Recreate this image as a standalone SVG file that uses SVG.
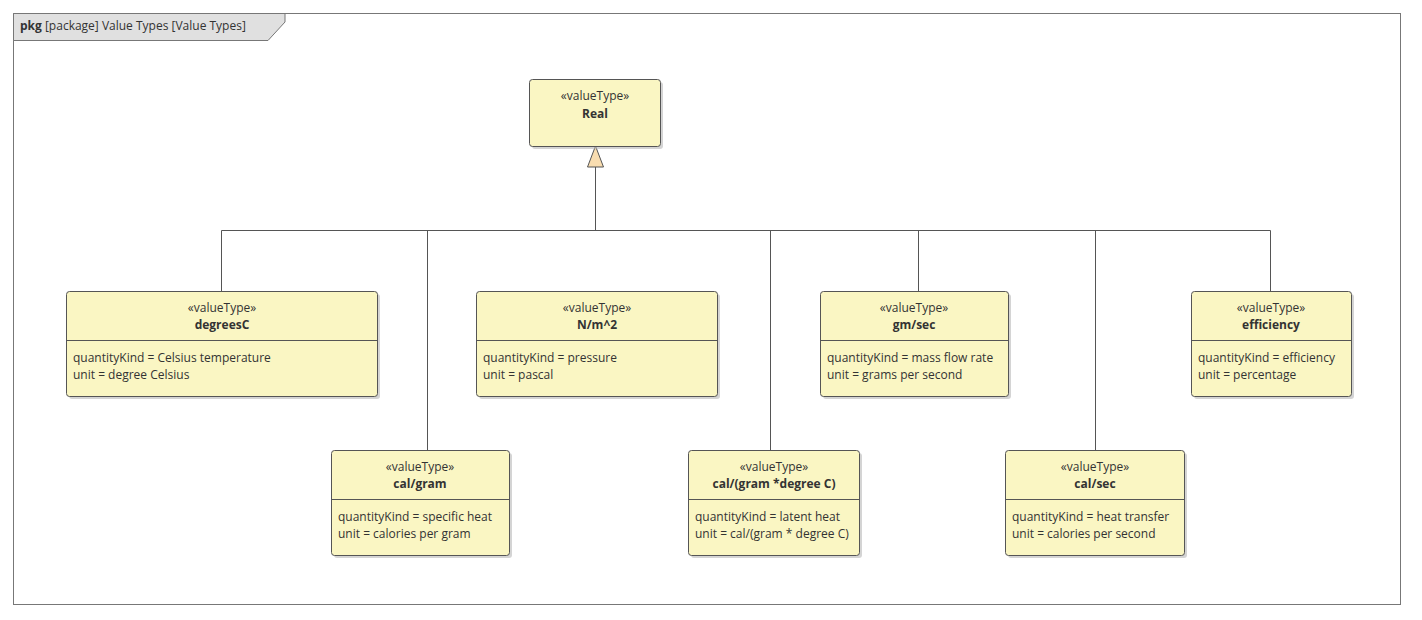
<svg xmlns="http://www.w3.org/2000/svg" width="1422" height="620" viewBox="0 0 1422 620">
<defs>
<style>
text{font-family:"Open Sans","Noto Sans","Liberation Sans",sans-serif;font-size:12px;fill:#333}
.st{text-anchor:middle}
.nm{text-anchor:middle;font-weight:bold}
.box{fill:#FAF6C3;stroke:#555;stroke-width:1}
.sh{fill:#b8b8b8;opacity:0.6}
.dv{stroke:#555;stroke-width:1}
.cn{stroke:#555;stroke-width:1;fill:none}
</style>
</defs>
<rect x="0" y="0" width="1422" height="620" fill="#fff"/>
<g id="frame">
<rect x="13.5" y="13.5" width="1387" height="591" fill="none" stroke="#777"/>
<path d="M13.5 13.5 H285 V22 L268 40.5 H13.5 Z" fill="#e0e0e0" stroke="#777"/>
<text x="20" y="30"><tspan font-weight="bold">pkg</tspan> [package] Value Types [Value Types]</text>
</g>
<g id="connectors">
<path class="cn" d="M595.5 167 V230.5 M221.5 230.5 H1270.5 M221.5 230.5 V291 M427.5 230.5 V450 M770.5 230.5 V450 M918.5 230.5 V291 M1095.5 230.5 V450 M1270.5 230.5 V291"/>
<path d="M595.5 146 L587.5 167 H603.5 Z" fill="#F9DDB0" stroke="#555"/>
</g>
<g id="Real">
<rect class="sh" x="532" y="82" width="131" height="67" rx="3"/>
<rect class="box" x="529.5" y="79.5" width="131" height="67" rx="3"/>
<text class="st" x="595" y="100">«valueType»</text>
<text class="nm" x="595" y="118">Real</text>
</g>
<g id="degreesC">
<rect class="sh" x="69" y="294" width="311" height="105" rx="3"/>
<rect class="box" x="66.5" y="291.5" width="311" height="105" rx="3"/>
<text class="st" x="222" y="312">«valueType»</text>
<text class="nm" x="222" y="329">degreesC</text>
<line class="dv" x1="66.5" y1="340.5" x2="377.5" y2="340.5"/>
<text x="73" y="362">quantityKind = Celsius temperature</text>
<text x="73" y="379">unit = degree Celsius</text>
</g>
<g id="Nm2">
<rect class="sh" x="479" y="294" width="241" height="105" rx="3"/>
<rect class="box" x="476.5" y="291.5" width="241" height="105" rx="3"/>
<text class="st" x="597" y="312">«valueType»</text>
<text class="nm" x="597" y="329">N/m^2</text>
<line class="dv" x1="476.5" y1="340.5" x2="717.5" y2="340.5"/>
<text x="483" y="362">quantityKind = pressure</text>
<text x="483" y="379">unit = pascal</text>
</g>
<g id="gmsec">
<rect class="sh" x="823" y="294" width="188" height="105" rx="3"/>
<rect class="box" x="820.5" y="291.5" width="188" height="105" rx="3"/>
<text class="st" x="914" y="312">«valueType»</text>
<text class="nm" x="914" y="329">gm/sec</text>
<line class="dv" x1="820.5" y1="340.5" x2="1008.5" y2="340.5"/>
<text x="827" y="362">quantityKind = mass flow rate</text>
<text x="827" y="379">unit = grams per second</text>
</g>
<g id="efficiency">
<rect class="sh" x="1194" y="294" width="160" height="105" rx="3"/>
<rect class="box" x="1191.5" y="291.5" width="160" height="105" rx="3"/>
<text class="st" x="1271" y="312">«valueType»</text>
<text class="nm" x="1271" y="329">efficiency</text>
<line class="dv" x1="1191.5" y1="340.5" x2="1351.5" y2="340.5"/>
<text x="1198" y="362">quantityKind = efficiency</text>
<text x="1198" y="379">unit = percentage</text>
</g>
<g id="calgram">
<rect class="sh" x="334" y="453" width="178" height="105" rx="3"/>
<rect class="box" x="331.5" y="450.5" width="178" height="105" rx="3"/>
<text class="st" x="420" y="471">«valueType»</text>
<text class="nm" x="420" y="488">cal/gram</text>
<line class="dv" x1="331.5" y1="499.5" x2="509.5" y2="499.5"/>
<text x="338" y="521">quantityKind = specific heat</text>
<text x="338" y="538">unit = calories per gram</text>
</g>
<g id="calgramdegC">
<rect class="sh" x="691" y="453" width="171" height="105" rx="3"/>
<rect class="box" x="688.5" y="450.5" width="171" height="105" rx="3"/>
<text class="st" x="774" y="471">«valueType»</text>
<text class="nm" x="774" y="488">cal/(gram *degree C)</text>
<line class="dv" x1="688.5" y1="499.5" x2="859.5" y2="499.5"/>
<text x="695" y="521">quantityKind = latent heat</text>
<text x="695" y="538">unit = cal/(gram * degree C)</text>
</g>
<g id="calsec">
<rect class="sh" x="1008" y="453" width="179" height="105" rx="3"/>
<rect class="box" x="1005.5" y="450.5" width="179" height="105" rx="3"/>
<text class="st" x="1095" y="471">«valueType»</text>
<text class="nm" x="1095" y="488">cal/sec</text>
<line class="dv" x1="1005.5" y1="499.5" x2="1184.5" y2="499.5"/>
<text x="1012" y="521">quantityKind = heat transfer</text>
<text x="1012" y="538">unit = calories per second</text>
</g>
</svg>
